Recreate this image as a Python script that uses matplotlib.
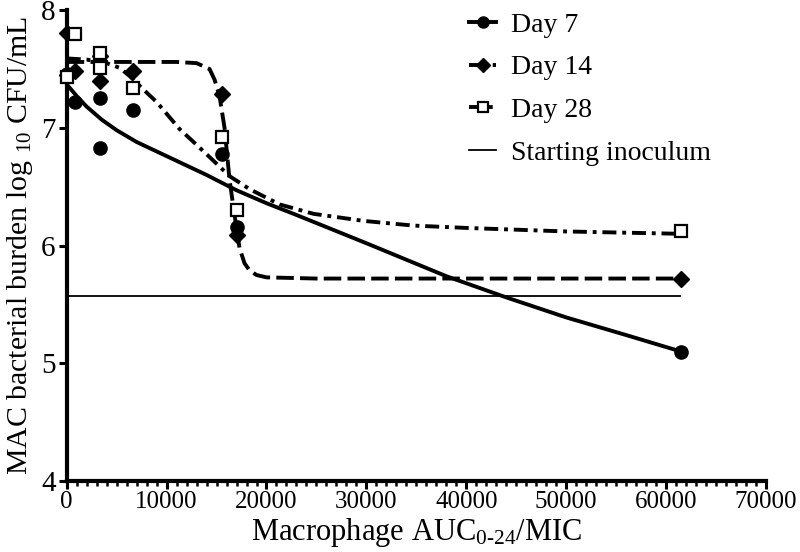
"""
MAC bacterial burden vs macrophage AUC0-24/MIC, days 7 / 14 / 28.
Values read off the reference picture.
"""
import matplotlib
matplotlib.use("Agg")
import matplotlib.pyplot as plt
from matplotlib.ticker import MultipleLocator

plt.rcParams['font.family'] = ['Liberation Serif', 'DejaVu Serif']
plt.rcParams['mathtext.fontset'] = 'custom'
plt.rcParams['mathtext.rm'] = 'Liberation Serif'
plt.rcParams['mathtext.it'] = 'Liberation Serif:italic'

# observed points (x = AUC/MIC, y = log10 CFU/mL)
day7_x = [0, 800, 3300, 3300, 6600, 15500, 17000, 61500]
day7_y = [7.46, 7.22, 7.25, 6.83, 7.15, 6.78, 6.16, 5.10]
day14_x = [0, 0, 800, 3300, 3300, 6600, 15500, 17000, 61500]
day14_y = [7.81, 7.45, 7.48, 7.61, 7.40, 7.48, 7.29, 6.09, 5.72]
day28_x = [0, 800, 3300, 3300, 6600, 15500, 17000, 61500]
day28_y = [7.43, 7.80, 7.64, 7.51, 7.34, 6.92, 6.30, 6.12]

# fitted curves
fit7_x = [0, 1000, 2000, 3500, 5000, 7000, 9000, 11000, 14000, 17000, 20000,
          23000, 26500, 30000, 34000, 38000, 44000, 50000, 56000, 61500]
fit7_y = [7.37, 7.27, 7.18, 7.07, 6.98, 6.88, 6.80, 6.72, 6.60, 6.47, 6.36,
          6.26, 6.14, 6.02, 5.88, 5.74, 5.56, 5.39, 5.24, 5.10]
fit14_x = [0, 4000, 8000, 11000, 13000, 14300, 14800, 15300, 15800, 16300,
           16800, 17300, 17800, 18300, 19000, 20000, 25000, 40000, 61500]
fit14_y = [7.56, 7.56, 7.56, 7.56, 7.55, 7.50, 7.41, 7.27, 7.00, 6.56,
           6.26, 5.98, 5.85, 5.79, 5.75, 5.73, 5.72, 5.72, 5.72]
fit28_x = [0, 2000, 4000, 5300, 6300, 8000, 9000, 11300, 12700, 14700, 16300,
           18300, 21300, 24700, 29700, 34700, 40000, 50000, 61500]
fit28_y = [7.59, 7.58, 7.55, 7.51, 7.44, 7.30, 7.22, 6.99, 6.88, 6.72, 6.59,
           6.48, 6.35, 6.27, 6.21, 6.17, 6.15, 6.12, 6.10]

inoculum_y = 5.57
inoculum_x = [0, 61400]

fig = plt.figure(figsize=(8, 5.52), dpi=100)
ax = fig.add_axes([0.0834, 0.1286, 0.874, 0.853])

lw = 2.8
ax.plot(fit7_x, fit7_y, color='black', lw=lw, solid_capstyle='butt')
ax.plot(fit14_x, fit14_y, color='black', lw=lw, dashes=(4.5, 1.6))
ax.plot(fit28_x, fit28_y, color='black', lw=lw, dashes=(3.6, 1.5, 1.0, 1.5))
ax.plot(inoculum_x, [inoculum_y] * 2, color='black', lw=1.3)

ax.plot(day7_x, day7_y, 'o', color='black', ms=9.5, clip_on=False, zorder=5)
ax.plot(day14_x, day14_y, 'D', color='black', ms=8, clip_on=False, zorder=5)
ax.plot(day28_x, day28_y, 's', mfc='white', mec='black', mew=1.6, ms=9,
        clip_on=False, zorder=6)

# legend handles
h7, = ax.plot([], [], color='black', lw=lw, marker='o', ms=8)
h14, = ax.plot([], [], color='black', lw=lw, marker='D', ms=7, dashes=(4.5, 1.6))
h28, = ax.plot([], [], color='black', lw=lw, marker='s', ms=7.5,
               mfc='white', mew=1.6, dashes=(3.6, 1.5, 1.0, 1.5))
hin, = ax.plot([], [], color='black', lw=1.3)
ax.legend([h7, h14, h28, hin], ['Day 7', 'Day 14', 'Day 28', 'Starting inoculum'],
          loc='upper left', bbox_to_anchor=(0.566, 1.008), bbox_transform=fig.transFigure,
          frameon=False, fontsize=20, handlelength=0.95, handletextpad=0.55,
          labelspacing=0.62, borderpad=0.1)

ax.set_xlim(0, 70000)
ax.set_ylim(4, 8)
ax.xaxis.set_major_locator(MultipleLocator(10000))
ax.xaxis.set_minor_locator(MultipleLocator(1000))
ax.yaxis.set_major_locator(MultipleLocator(1))

for s in ['top', 'right']:
    ax.spines[s].set_visible(False)
for s in ['left', 'bottom']:
    ax.spines[s].set_linewidth(3)

ax.tick_params(axis='both', which='major', direction='out', length=6, width=2.2)
ax.tick_params(axis='x', which='minor', direction='out', length=3.5, width=1.8)
ax.tick_params(axis='x', labelsize=18, pad=1)
ax.tick_params(axis='y', labelsize=21, pad=2)

ax.set_xlabel('Macrophage AUC$_{\\mathregular{0\\text{-}24}}$/MIC', fontsize=22, labelpad=2)
ax.set_ylabel('MAC bacterial burden log $_{\\mathregular{10}}$ CFU/mL', fontsize=21.5,
              labelpad=4)

fig.savefig('out.png', dpi=100)
